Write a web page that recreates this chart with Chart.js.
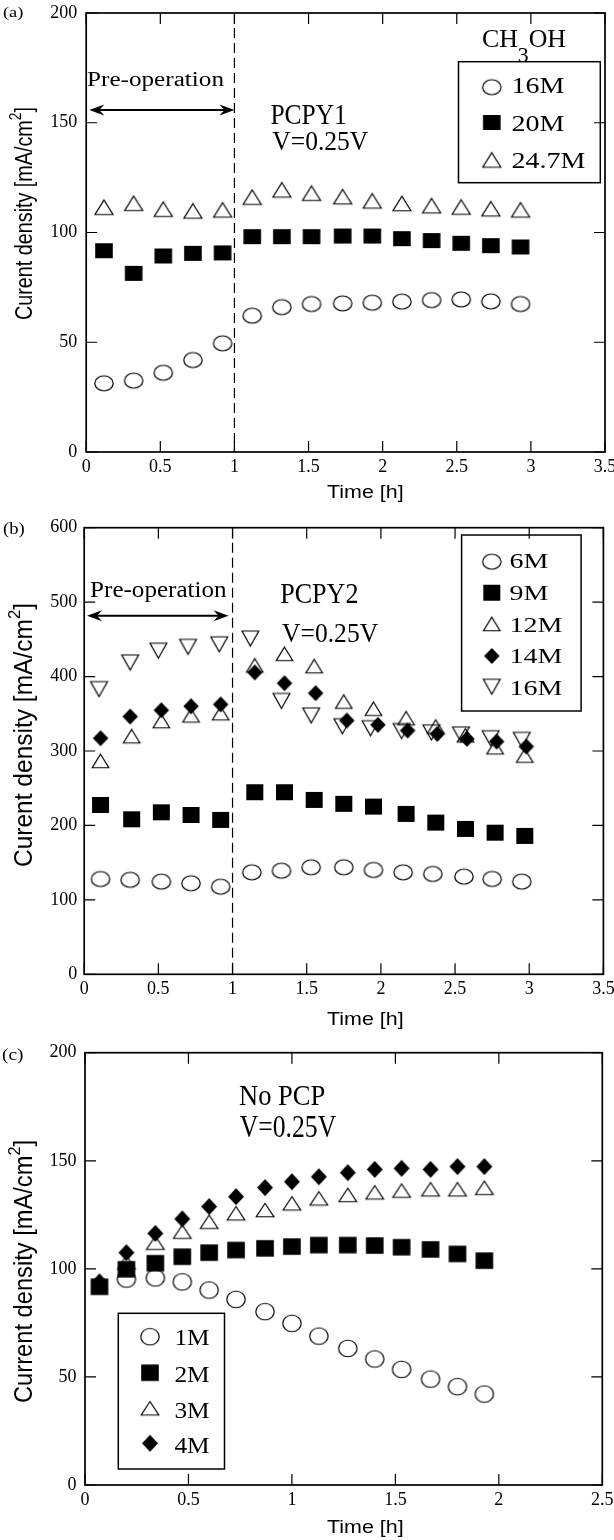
<!DOCTYPE html>
<html><head><meta charset="utf-8">
<script src="https://cdn.jsdelivr.net/npm/chart.js@4.4.1/dist/chart.umd.min.js"></script>
<style>
html,body{margin:0;padding:0;background:#fff;}
#wrap{position:relative;width:614px;height:1540px;overflow:hidden;background:#fff;}
canvas{position:absolute;left:0;}
</style></head><body>
<div id="wrap">
<canvas id="ca" width="614" height="510" style="top:0px"></canvas>
<canvas id="cb" width="614" height="520" style="top:510px"></canvas>
<canvas id="cc" width="614" height="510" style="top:1030px"></canvas>
</div>
<script>
// ---------------- data ----------------
const timeA   = [0.12, 0.32, 0.52, 0.72, 0.92, 1.12, 1.32, 1.52, 1.73, 1.93, 2.13, 2.33, 2.53, 2.73, 2.93];
const curA16  = [31.3, 32.5, 36.1, 41.9, 49.5, 62.1, 66.0, 67.4, 67.7, 68.0, 68.5, 69.2, 69.5, 68.6, 67.4];
const curA20  = [91.7, 81.4, 89.3, 90.5, 90.7, 98.1, 98.1, 98.1, 98.4, 98.4, 97.2, 96.3, 95.1, 94.0, 93.4];
const curA247 = [111.5, 113.3, 110.6, 109.8, 110.3, 116.1, 119.4, 117.9, 116.3, 114.4, 113.2, 112.2, 111.6, 110.8, 110.3];
const labelsA = ['16M', '20M', '24.7M'];

const timeB   = [0.11, 0.31, 0.52, 0.72, 0.92, 1.13, 1.33, 1.53, 1.75, 1.95, 2.15, 2.35, 2.56, 2.75, 2.95];
const timeB9  = [0.11, 0.32, 0.52, 0.72, 0.92, 1.15, 1.35, 1.55, 1.75, 1.95, 2.17, 2.37, 2.57, 2.77, 2.97];
const timeB14 = [0.11, 0.31, 0.52, 0.72, 0.92, 1.15, 1.35, 1.56, 1.77, 1.98, 2.18, 2.38, 2.58, 2.78, 2.98];
const timeB16 = [0.10, 0.31, 0.50, 0.70, 0.91, 1.12, 1.33, 1.53, 1.74, 1.93, 2.14, 2.34, 2.54, 2.74, 2.95];
const curB6   = [128.0, 126.9, 124.5, 122.3, 117.7, 137.0, 139.2, 143.8, 143.8, 140.2, 137.0, 134.8, 131.2, 128.1, 124.5];
const curB9   = [227.5, 208.3, 217.7, 214.1, 207.4, 244.6, 244.6, 234.3, 229.0, 225.3, 215.5, 203.8, 195.3, 190.3, 185.9];
const curB12  = [286.7, 319.9, 340.2, 347.8, 350.8, 415.0, 430.5, 414.0, 366.4, 356.8, 344.0, 332.8, 321.0, 305.0, 293.8];
const curB14  = [317.2, 346.3, 354.8, 360.2, 362.6, 405.6, 391.1, 377.7, 340.9, 335.1, 327.5, 323.0, 316.3, 312.7, 306.0];
const curB16  = [383.2, 419.0, 434.8, 439.9, 443.3, 451.1, 367.3, 347.8, 333.3, 330.6, 326.8, 325.0, 322.3, 317.2, 315.0];
const labelsB = ['6M', '9M', '12M', '14M', '16M'];

const timeC   = [0.07, 0.20, 0.34, 0.47, 0.60, 0.73, 0.87, 1.00, 1.13, 1.27, 1.40, 1.53, 1.67, 1.80, 1.93];
const curC1   = [null, 95.3, 95.8, 94.0, 90.2, 85.9, 80.2, 74.8, 68.9, 63.2, 58.3, 53.5, 49.0, 45.5, 42.1];
const curC2   = [91.7, 99.8, 102.6, 105.6, 107.5, 108.7, 109.5, 110.3, 111.0, 111.0, 110.8, 110.0, 109.0, 106.9, 103.8];
const curC3   = [null, 103.0, 112.1, 117.2, 121.8, 125.7, 127.2, 130.3, 132.6, 134.2, 135.4, 136.2, 136.8, 136.8, 137.5];
const curC4   = [94.0, 107.5, 116.4, 123.1, 128.8, 133.4, 137.6, 140.3, 142.6, 144.5, 146.0, 146.5, 146.0, 147.3, 147.3];
const labelsC = ['1M', '2M', '3M', '4M'];

const xTicksAB = [0, 0.5, 1, 1.5, 2, 2.5, 3, 3.5];
const xTicksC  = [0, 0.5, 1, 1.5, 2, 2.5];
const yTicksA  = [0, 50, 100, 150, 200];
const yTicksB  = [0, 100, 200, 300, 400, 500, 600];
const yTicksC  = [0, 50, 100, 150, 200];

// ---------------- helpers ----------------
const SERIF = '"Liberation Serif", "Times New Roman", serif';
const SANS = '"Liberation Sans", Arial, sans-serif';

function marker(type, w, h, lw) {
  const c = document.createElement('canvas');
  c.width = Math.round(w + 4); c.height = Math.round(h + 4);
  const g = c.getContext('2d');
  const cx = c.width / 2, cy = c.height / 2;
  g.lineWidth = lw || 1.2; g.strokeStyle = '#000'; g.fillStyle = '#000';
  g.beginPath();
  if (type === 'circle') { g.ellipse(cx, cy, w / 2, h / 2, 0, 0, Math.PI * 2); g.stroke(); }
  else if (type === 'square') { g.fillRect(cx - w / 2, cy - h / 2, w, h); }
  else if (type === 'tri') { g.moveTo(cx, cy - h / 2); g.lineTo(cx + w / 2, cy + h / 2); g.lineTo(cx - w / 2, cy + h / 2); g.closePath(); g.stroke(); }
  else if (type === 'itri') { g.moveTo(cx, cy + h / 2); g.lineTo(cx + w / 2, cy - h / 2); g.lineTo(cx - w / 2, cy - h / 2); g.closePath(); g.stroke(); }
  else if (type === 'diamond') { g.moveTo(cx, cy - h / 2); g.lineTo(cx + w / 2, cy); g.lineTo(cx, cy + h / 2); g.lineTo(cx - w / 2, cy); g.closePath(); g.fill(); }
  return c;
}

const MA = { c: marker('circle', 18.4, 15), s: marker('square', 17.6, 15), t: marker('tri', 18, 14.5) };
const MB = { c: marker('circle', 18.4, 15), s: marker('square', 17, 16), t: marker('tri', 16.5, 13.5), d: marker('diamond', 15.5, 16), v: marker('itri', 16.8, 15) };
const MC = { c: marker('circle', 18.4, 16.5), s: marker('square', 17.6, 16.5), t: marker('tri', 17.6, 13.5), d: marker('diamond', 16, 17) };

function pts(xs, ys) { return xs.map((x, i) => ({ x: x, y: ys[i] })).filter(p => p.y !== null); }
function ds(label, xs, ys, img, order) {
  return { label: label, data: pts(xs, ys), pointStyle: img, pointRadius: 8, pointHoverRadius: 8, showLine: false, order: order || 0 };
}

function segsWidth(ctx, segs) {
  let t = 0;
  segs.forEach(s => { ctx.font = s.fs + 'px ' + (s.fam || SERIF); s._w = ctx.measureText(s.s).width; t += s._w; });
  return t;
}
function drawSegs(ctx, segs) {
  let x = 0;
  segs.forEach(s => { ctx.font = s.fs + 'px ' + (s.fam || SERIF); ctx.fillText(s.s, x, s.dy || 0); x += s._w; });
}
function fitText(ctx, segs, x, base, width) {
  const tw = segsWidth(ctx, segs);
  ctx.save(); ctx.translate(x, base); ctx.scale(width / tw, 1);
  ctx.textAlign = 'left'; ctx.textBaseline = 'alphabetic'; ctx.fillStyle = '#000';
  drawSegs(ctx, segs); ctx.restore();
}
function rotText(ctx, segs, xBase, yBottom, len, perp) {
  const tw = segsWidth(ctx, segs);
  ctx.save(); ctx.translate(xBase, yBottom); ctx.rotate(-Math.PI / 2); ctx.scale(len / tw, perp);
  ctx.textAlign = 'left'; ctx.textBaseline = 'alphabetic'; ctx.fillStyle = '#000';
  drawSegs(ctx, segs); ctx.restore();
}

const deco = {
  ca: {
    top: 0, dashX: 1,
    arrow: { x0: 0.021, x1: 1.0, y: 155.8 },
    texts: [
      { segs: [{ s: '(a)', fs: 15 }], x: 3, b: 17.3, w: 20.4 },
      { segs: [{ s: 'Pre-operation', fs: 21.6 }], x: 87, b: 86, w: 137 },
      { segs: [{ s: 'PCPY1', fs: 30 }], x: 270.4, b: 124, w: 76.4 },
      { segs: [{ s: 'V=0.25V', fs: 27.5 }], x: 272.3, b: 150, w: 96 },
      { segs: [{ s: 'CH', fs: 25 }, { s: '3', fs: 21, dy: 15 }, { s: 'OH', fs: 25 }], x: 482, b: 47.3, w: 84 },
      { segs: [{ s: 'Time [h]', fs: 19, fam: SANS }], x: 327, b: 498.3, w: 76.6 }
    ],
    ytitle: { segs: [{ s: 'Curent density [mA/cm', fs: 20, fam: SANS }, { s: '2', fs: 14, dy: -9, fam: SANS }, { s: ']', fs: 20, fam: SANS }], x: 31.7, y0: 320, len: 213, perp: 1.16 },
    legend: { box: [458.5, 61.7, 600.3, 182.7], mx: 491.8, tx: 511.4, fs: 22.7, refW: 52.9, ref: 0,
      items: [{ m: MA.c, l: labelsA[0], my: 87.2, b: 93.3 }, { m: MA.s, l: labelsA[1], my: 122.5, b: 130.7 }, { m: MA.t, l: labelsA[2], my: 160, b: 168.3 }] }
  },
  cb: {
    top: 510, dashX: 1,
    arrow: { x0: 0.019, x1: 0.973, y: 481.6 },
    texts: [
      { segs: [{ s: '(b)', fs: 16.4 }], x: 3, b: 533.8, w: 21.7 },
      { segs: [{ s: 'Pre-operation', fs: 22.5 }], x: 90.1, b: 596.7, w: 136.4 },
      { segs: [{ s: 'PCPY2', fs: 28.7 }], x: 280.2, b: 603.3, w: 78.3 },
      { segs: [{ s: 'V=0.25V', fs: 27.8 }], x: 282.1, b: 641.7, w: 96 },
      { segs: [{ s: 'Time [h]', fs: 19, fam: SANS }], x: 327, b: 1025, w: 76.6 }
    ],
    ytitle: { segs: [{ s: 'Curent density [mA/cm', fs: 22, fam: SANS }, { s: '2', fs: 15, dy: -10, fam: SANS }, { s: ']', fs: 22, fam: SANS }], x: 31.7, y0: 867, len: 264, perp: 1.16 },
    legend: { box: [461.6, 535, 581.1, 711], mx: 491.8, tx: 509.4, fs: 20.5, refW: 52.9, ref: 4,
      items: [{ m: MB.c, l: labelsB[0], my: 561.7, b: 568.3 }, { m: MB.s, l: labelsB[1], my: 592.7, b: 600 }, { m: MB.t, l: labelsB[2], my: 624, b: 631.7 }, { m: MB.d, l: labelsB[3], my: 656, b: 663.3 }, { m: MB.v, l: labelsB[4], my: 686.7, b: 695 }] }
  },
  cc: {
    top: 1030, dashX: null, arrow: null,
    texts: [
      { segs: [{ s: '(c)', fs: 17.6 }], x: 2, b: 1060.2, w: 21.5 },
      { segs: [{ s: 'No PCP', fs: 30 }], x: 239, b: 1105, w: 86.2 },
      { segs: [{ s: 'V=0.25V', fs: 31 }], x: 239.8, b: 1137.3, w: 96.4 },
      { segs: [{ s: 'Time [h]', fs: 19, fam: SANS }], x: 327, b: 1533.3, w: 76.6 }
    ],
    ytitle: { segs: [{ s: 'Current density [mA/cm', fs: 22, fam: SANS }, { s: '2', fs: 15, dy: -10, fam: SANS }, { s: ']', fs: 22, fam: SANS }], x: 31.7, y0: 1403, len: 263, perp: 1.16 },
    legend: { box: [118.3, 1313.3, 224.5, 1469], mx: 150, tx: 174.4, fs: 22.7, refW: 35.2, ref: 0,
      items: [{ m: MC.c, l: labelsC[0], my: 1336.7, b: 1345 }, { m: MC.s, l: labelsC[1], my: 1372.7, b: 1381.7 }, { m: MC.t, l: labelsC[2], my: 1408.3, b: 1418.3 }, { m: MC.d, l: labelsC[3], my: 1443.3, b: 1453.3 }] }
  }
};

const framePlugin = {
  id: 'frame',
  beforeDatasetsDraw(chart) {
    const d = deco[chart.canvas.id]; if (!d) return;
    const ctx = chart.ctx, a = chart.chartArea, xs = chart.scales.x, ys = chart.scales.y;
    ctx.save();
    if (d.dashX != null) {
      const px = xs.getPixelForValue(d.dashX);
      ctx.beginPath(); ctx.setLineDash([10, 5]); ctx.lineWidth = 1.2; ctx.strokeStyle = '#000';
      ctx.moveTo(px, a.top); ctx.lineTo(px, a.bottom); ctx.stroke(); ctx.setLineDash([]);
    }
    if (d.arrow) {
      const x0 = xs.getPixelForValue(d.arrow.x0), x1 = xs.getPixelForValue(d.arrow.x1), y = ys.getPixelForValue(d.arrow.y);
      ctx.beginPath(); ctx.lineWidth = 2; ctx.strokeStyle = '#000';
      ctx.moveTo(x0 + 6, y); ctx.lineTo(x1 - 6, y); ctx.stroke();
      ctx.fillStyle = '#000';
      [[x0, 1], [x1, -1]].forEach(([tx, dir]) => {
        ctx.beginPath(); ctx.moveTo(tx, y); ctx.lineTo(tx + dir * 15, y - 5.5); ctx.lineTo(tx + dir * 10, y); ctx.lineTo(tx + dir * 15, y + 5.5); ctx.closePath(); ctx.fill();
      });
    }
    ctx.beginPath(); ctx.lineWidth = 1.2; ctx.strokeStyle = '#000';
    const TL = 11;
    xs.ticks.forEach(t => { const px = xs.getPixelForValue(t.value); ctx.moveTo(px, a.bottom); ctx.lineTo(px, a.bottom - TL); ctx.moveTo(px, a.top); ctx.lineTo(px, a.top + TL); });
    ys.ticks.forEach(t => { const py = ys.getPixelForValue(t.value); ctx.moveTo(a.left, py); ctx.lineTo(a.left + TL, py); ctx.moveTo(a.right, py); ctx.lineTo(a.right - TL, py); });
    ctx.stroke();
    ctx.lineWidth = 1.7; ctx.strokeRect(a.left, a.top, a.right - a.left, a.bottom - a.top);
    d.texts.forEach(t => fitText(ctx, t.segs, t.x, t.b - d.top, t.w));
    const yt = d.ytitle;
    rotText(ctx, yt.segs, yt.x, yt.y0 - d.top, yt.len, yt.perp);
    ctx.restore();
  },
  afterDatasetsDraw(chart) {
    const d = deco[chart.canvas.id]; if (!d || !d.legend) return;
    const ctx = chart.ctx, L = d.legend, off = d.top;
    ctx.save();
    ctx.lineWidth = 1.5; ctx.strokeStyle = '#000';
    ctx.strokeRect(L.box[0], L.box[1] - off, L.box[2] - L.box[0], L.box[3] - L.box[1]);
    ctx.font = L.fs + 'px ' + SERIF;
    const sx = L.refW / ctx.measureText(L.items[L.ref].l).width;
    ctx.fillStyle = '#000'; ctx.textBaseline = 'alphabetic'; ctx.textAlign = 'left';
    L.items.forEach(it => {
      ctx.drawImage(it.m, L.mx - it.m.width / 2, it.my - off - it.m.height / 2);
      ctx.save(); ctx.translate(L.tx, it.b - off); ctx.scale(sx, 1); ctx.fillText(it.l, 0, 0); ctx.restore();
    });
    ctx.restore();
  }
};

function makeChart(id, datasets, xMax, yMax, xTicks, yTicks, pad, yPad) {
  return new Chart(document.getElementById(id), {
    type: 'scatter',
    data: { datasets: datasets },
    plugins: [framePlugin],
    options: {
      responsive: false, animation: false, events: [], devicePixelRatio: 1,
      layout: { padding: pad },
      plugins: { legend: { display: false }, tooltip: { enabled: false } },
      scales: {
        x: {
          type: 'linear', min: 0, max: xMax,
          grid: { display: false, drawTicks: false }, border: { display: false },
          ticks: { color: '#000', font: { family: SERIF, size: 18 }, padding: 4, maxRotation: 0, autoSkip: false, callback: v => String(v) },
          afterBuildTicks: s => { s.ticks = xTicks.map(v => ({ value: v })); },
          afterFit: s => { s.height = 30; s.paddingLeft = 0; s.paddingRight = 0; }
        },
        y: {
          type: 'linear', min: 0, max: yMax,
          grid: { display: false, drawTicks: false }, border: { display: false },
          ticks: { color: '#000', font: { family: SERIF, size: 18 }, padding: yPad, autoSkip: false, callback: v => String(v) },
          afterBuildTicks: s => { s.ticks = yTicks.map(v => ({ value: v })); },
          afterFit: s => { s.width = 60; s.paddingTop = 0; s.paddingBottom = 0; }
        }
      }
    }
  });
}

makeChart('ca', [
  ds(labelsA[0], timeA, curA16, MA.c, 0),
  ds(labelsA[1], timeA, curA20, MA.s, 0),
  ds(labelsA[2], timeA, curA247, MA.t, 0)
], 3.5, 200, xTicksAB, yTicksA, { left: 26.2, right: 9, top: 13, bottom: 28 }, 9);

makeChart('cb', [
  ds(labelsB[0], timeB, curB6, MB.c, 1),
  ds(labelsB[1], timeB9, curB9, MB.s, 1),
  ds(labelsB[2], timeB9, curB12, MB.t, 1),
  ds(labelsB[3], timeB14, curB14, MB.d, 0),
  ds(labelsB[4], timeB16, curB16, MB.v, 1)
], 3.5, 600, xTicksAB, yTicksB, { left: 24.2, right: 10.6, top: 17.7, bottom: 25.7 }, 7);

makeChart('cc', [
  ds(labelsC[0], timeC, curC1, MC.c, 1),
  ds(labelsC[1], timeC, curC2, MC.s, 0),
  ds(labelsC[2], timeC, curC3, MC.t, 1),
  ds(labelsC[3], timeC, curC4, MC.d, 0)
], 2.5, 200, xTicksC, yTicksC, { left: 25, right: 11.7, top: 22.7, bottom: 25 }, 8.6);
</script>
</body></html>
